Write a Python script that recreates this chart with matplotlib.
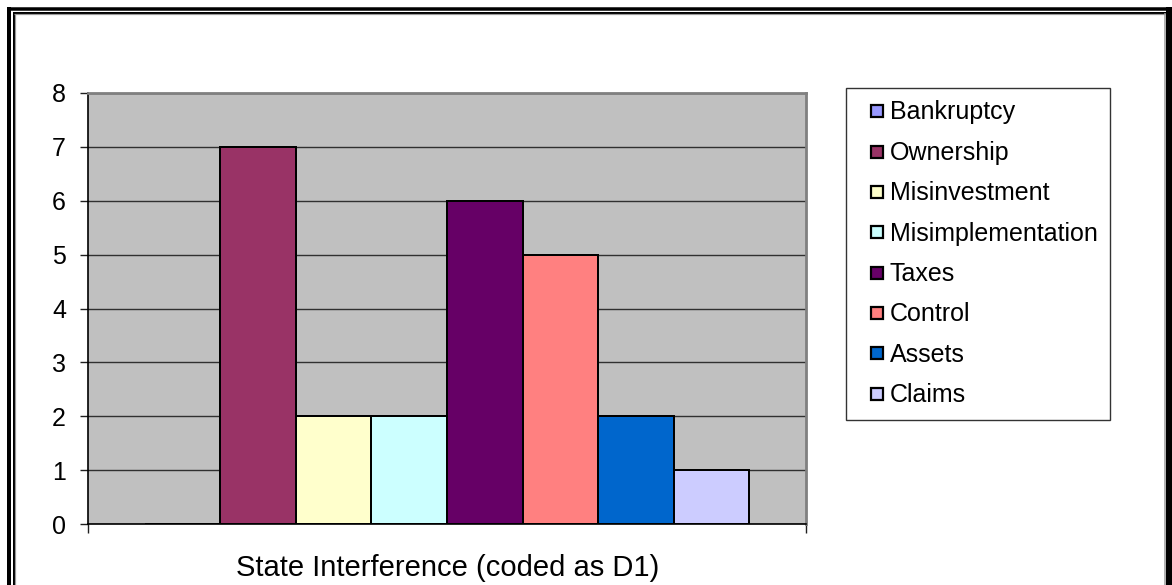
import matplotlib.pyplot as plt
from matplotlib.lines import Line2D
import numpy as np

# %% Data
series = ["Bankruptcy", "Ownership", "Misinvestment", "Misimplementation",
          "Taxes", "Control", "Assets", "Claims"]
values = [0, 7, 2, 2, 6, 5, 2, 1]
colors = ["#9999FF", "#993366", "#FFFFCC", "#CCFFFF",
          "#660066", "#FF8080", "#0066CC", "#CCCCFF"]
xlabel = "State Interference (coded as D1)"
yticks = list(range(0, 9))

plt.rcParams["font.family"] = ["Liberation Sans", "DejaVu Sans"]

W, H = 1172, 585
DPI = 100
PT = 72 / DPI  # pixels -> points

fig = plt.figure(figsize=(W / DPI, H / DPI), dpi=DPI)
fig.patch.set_facecolor("white")

# plot area in pixels: x 88..806, y 93..524
left, right, top, bottom = 88, 806, 93, 524
ax = fig.add_axes([left / W, 1 - bottom / H, (right - left) / W, (bottom - top) / H])
ax.set_facecolor("#C0C0C0")

n = len(series)
bw = 1.0
xs = (np.arange(n) - (n - 1) / 2) * bw
for x, v, c in zip(xs, values, colors):
    ax.bar(x, v, width=bw, color=c, edgecolor="black", linewidth=2.0 * PT, zorder=3)

half = n / 2 * bw + 0.75 * bw
ax.set_xlim(-half, half)
ax.set_ylim(0, 8)
ax.set_yticks(yticks)
ax.set_xticks([-half, half])
ax.set_xticklabels(["", ""])
ax.yaxis.grid(True, color="#303030", linewidth=1.0, zorder=1)
ax.set_axisbelow(True)
ax.tick_params(axis="both", direction="out", length=8 * PT, width=1.0,
               color="#202020", labelsize=18, pad=14 * PT)
ax.tick_params(axis="x", length=9 * PT)

for s in ["left", "bottom"]:
    ax.spines[s].set_color("black")
    ax.spines[s].set_linewidth(1.2)
for s in ["top", "right"]:
    ax.spines[s].set_color("#808080")
    ax.spines[s].set_linewidth(2.0)

fig.text((234 + 662) / 2 / W, 1 - 568 / H, xlabel, ha="center", va="center", fontsize=21)

# legend
handles = [Line2D([], [], linestyle="none", marker="s", markersize=12 * PT,
                  markerfacecolor=c, markeredgecolor="black", markeredgewidth=1.6)
           for c in colors]
leg = fig.legend(handles, series, loc="upper left",
                 bbox_to_anchor=(846 / W, 1 - 88 / H), fontsize=18,
                 frameon=True, fancybox=False, shadow=False,
                 handlelength=1.44, handleheight=0.6, handletextpad=-0.18,
                 labelspacing=0.655, borderpad=0.5, borderaxespad=0)
leg.get_frame().set_edgecolor("black")
leg.get_frame().set_linewidth(1.0)


# frame around the chart (pixel coords)
def fline(xp, yp, lw, color="black"):
    fig.add_artist(Line2D([p / W for p in xp], [1 - p / H for p in yp],
                          transform=fig.transFigure, color=color,
                          linewidth=lw * PT, solid_capstyle="butt"))


fline([9.5, 9.5], [585, 7], 4)
fline([7.5, 1172], [8.5, 8.5], 3.5)
fline([1169, 1169], [7, 585], 6)
fline([13.5, 13.5], [585, 12], 2)
fline([12.5, 1166], [12.5, 12.5], 2)
fline([15, 15], [585, 14], 1.2, "#999999")
fline([14, 1165], [14, 14], 1.2, "#999999")
fline([1165, 1165], [13, 585], 1.5, "#999999")

fig.savefig("out.png", dpi=DPI)
